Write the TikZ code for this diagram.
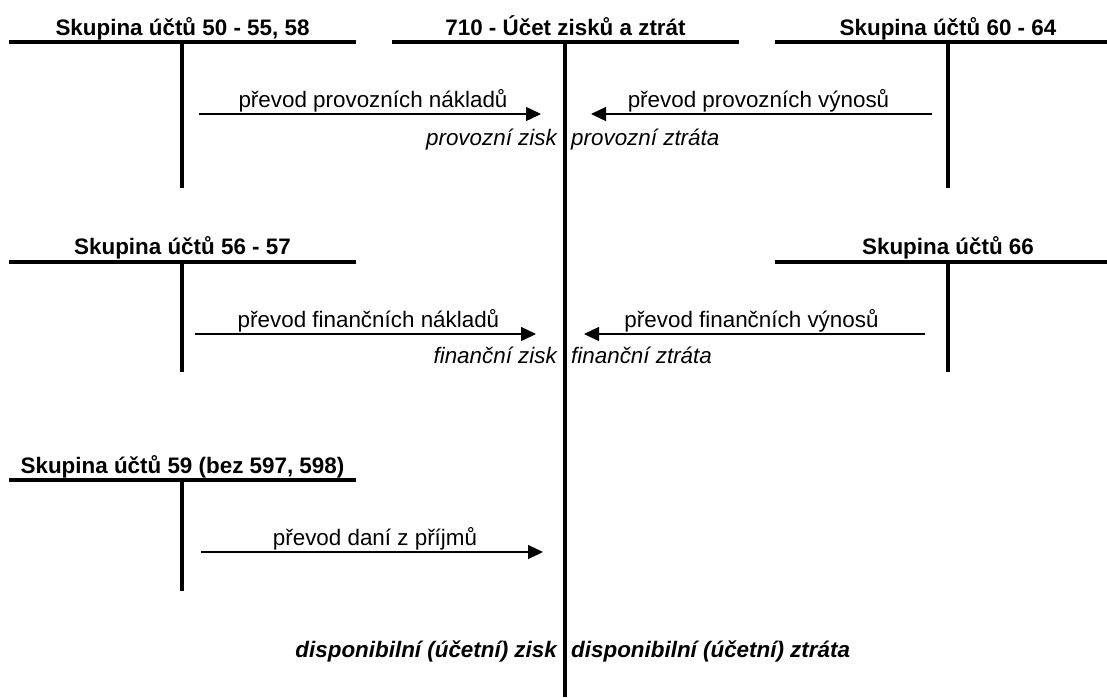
\documentclass[tikz,border=0pt]{standalone}
\usepackage{fontspec}
\setmainfont{Liberation Sans}
\usetikzlibrary{arrows.meta}

\begin{document}
\begin{tikzpicture}[
            x=1pt, y=-1pt,
            every node/.style={inner sep=0pt, font=\fontsize{22.4}{26}\selectfont},
            title/.style={anchor=base, font=\fontsize{22.4}{26}\selectfont\bfseries},
            result/.style={font=\fontsize{22.4}{26}\selectfont\itshape},
            final/.style={font=\fontsize{22.4}{26}\selectfont\bfseries\itshape},
            account/.style={line width=3.2pt},
            transfer/.style={line width=1.4pt, -{Triangle[length=15pt, width=14pt]}}
        ]
        \useasboundingbox (0,0) rectangle (1107,697);

        % T accounts
        \node[title] (naklady) at (182.5,35) {Skupina účtů 50 - 55, 58};
        \draw[account] (9,42) -- (356,42) (182,42) -- (182,188);
        \node[title] (vzz) at (565.5,35) {710 - Účet zisků a ztrát};
        \draw[account] (392,42) -- (739,42) (565,42) -- (565,697);
        \node[title] (vynosy) at (948,35) {Skupina účtů 60 - 64};
        \draw[account] (775,42) -- (1107,42) (948,42) -- (948,188);

        \node[title] (finnaklady) at (182.5,254) {Skupina účtů 56 - 57};
        \draw[account] (9,262) -- (356,262) (182,262) -- (182,372);
        \node[title] (finvynosy) at (948,254) {Skupina účtů 66};
        \draw[account] (775,262) -- (1107,262) (948,262) -- (948,372);

        \node[title] (dane) at (182.5,473) {Skupina účtů 59 (bez 597, 598)};
        \draw[account] (9,480) -- (356,480) (182,480) -- (182,591);

        % transfers into 710
        \coordinate (n1) at (199,114);
        \coordinate (z1) at (541,114);
        \coordinate (v1) at (932,114);
        \coordinate (s1) at (591,114);
        \coordinate (n2) at (195,334);
        \coordinate (z2) at (536,334);
        \coordinate (v2) at (925,334);
        \coordinate (s2) at (584,334);
        \coordinate (n3) at (201,552);
        \coordinate (z3) at (543,552);

        \draw[transfer] (n1) -- (z1) node[midway, anchor=base, xshift=3pt, yshift=6.5pt] {převod provozních nákladů};
        \draw[transfer] (v1) -- (s1) node[midway, anchor=base, xshift=-3pt, yshift=6.5pt] {převod provozních výnosů};
        \draw[transfer] (n2) -- (z2) node[midway, anchor=base, xshift=3pt, yshift=6.5pt] {převod finančních nákladů};
        \draw[transfer] (v2) -- (s2) node[midway, anchor=base, xshift=-3pt, yshift=6.5pt] {převod finančních výnosů};
        \draw[transfer] (n3) -- (z3) node[midway, anchor=base, xshift=3pt, yshift=6.5pt] {převod daní z příjmů};

        % results
        \node[result, anchor=base east] (pzisk) at (557,145) {provozní zisk};
        \node[result, anchor=base west] (pztrata) at (571,145) {provozní ztráta};
        \node[result, anchor=base east] (fzisk) at (557,363) {finanční zisk};
        \node[result, anchor=base west] (fztrata) at (571,363) {finanční ztráta};
        \node[final, anchor=base east] (dzisk) at (557,657) {disponibilní (účetní) zisk};
        \node[final, anchor=base west] (dztrata) at (571,657) {disponibilní (účetní) ztráta};
    \end{tikzpicture}
\end{document}
